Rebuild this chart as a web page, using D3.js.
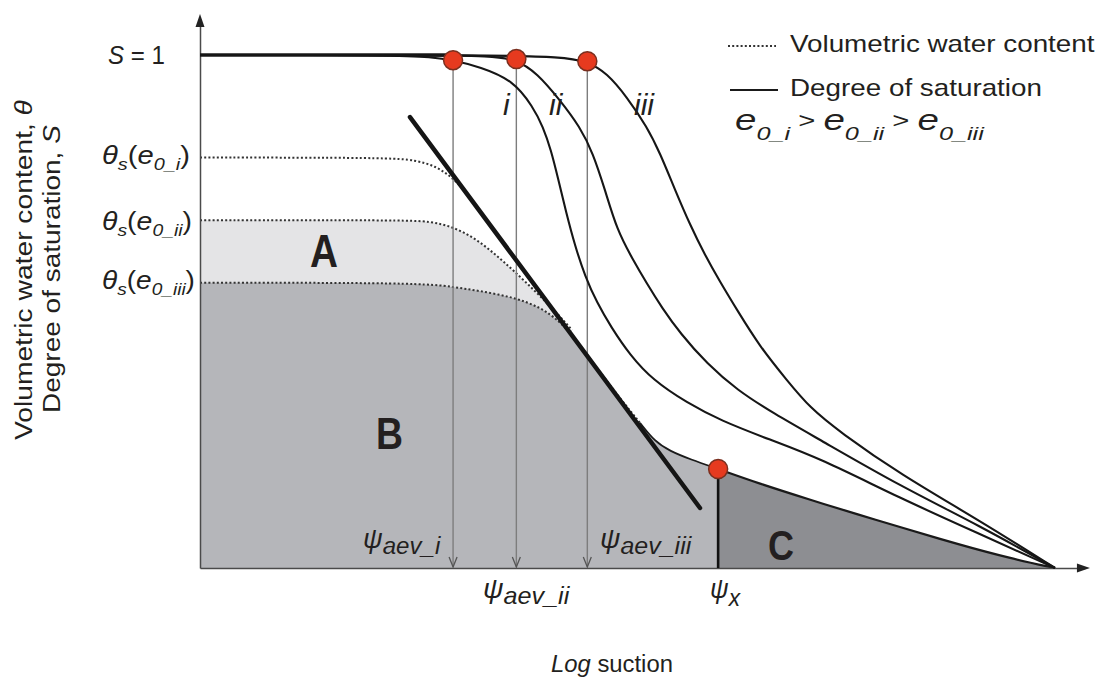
<!DOCTYPE html>
<html>
<head>
<meta charset="utf-8">
<script src="https://cdn.jsdelivr.net/npm/d3@7"></script>
<style>
  html, body { margin: 0; padding: 0; background: #fff; }
  svg { display: block; font-family: "Liberation Sans", Arial, Helvetica, sans-serif; }
  text { white-space: pre; }
</style>
</head>
<body>
<svg id="chart" width="1102" height="680"></svg>
<script>
// ---- Data: log suction (arbitrary log units, 0..10) vs. normalised S / theta (0..1) ----
const suctionDomain = [0, 10];
const valueDomain = [0, 1];

// Degree of saturation curves for three initial void ratios
const degreeSatI = [[0,1],[2.339,1],[2.690,0.996],[2.959,0.990],[3.275,0.977],[3.661,0.951],[3.895,0.899],[4.012,0.860],[4.105,0.815],[4.187,0.760],[4.281,0.694],[4.386,0.628],[4.503,0.569],[4.643,0.517],[4.807,0.470],[5.029,0.415],[5.298,0.366],[5.696,0.322],[6.082,0.288],[6.667,0.250],[7.251,0.214],[8.187,0.136],[9.123,0.066],[10,0]];
const degreeSatII = [[0,1],[2.690,1],[3.392,0.998],[3.696,0.992],[3.942,0.965],[4.211,0.912],[4.444,0.860],[4.596,0.809],[4.737,0.737],[4.877,0.659],[5.053,0.604],[5.228,0.554],[5.404,0.507],[5.614,0.458],[5.930,0.398],[6.281,0.347],[6.702,0.302],[7.251,0.250],[8.187,0.160],[9.123,0.082],[10,0]];
const degreeSatIII = [[0,1],[3.509,1],[4.211,0.996],[4.526,0.988],[4.760,0.965],[4.994,0.918],[5.228,0.860],[5.380,0.809],[5.556,0.737],[5.731,0.669],[5.906,0.610],[6.082,0.558],[6.281,0.503],[6.550,0.431],[6.865,0.366],[7.135,0.312],[7.485,0.265],[8.187,0.183],[9.123,0.092],[10,0]];

// Volumetric water content curves (normalised) until they join the common limb
const thetaI = [[0,0.800],[2.222,0.800],[2.515,0.795],[2.749,0.784],[2.947,0.762],[3.111,0.733],[3.251,0.702]];
const thetaII = [[0,0.678],[2.339,0.678],[2.690,0.676],[2.959,0.665],[3.216,0.643],[3.450,0.612],[3.661,0.581],[3.942,0.536],[4.175,0.497],[4.351,0.464]];
const thetaIII = [[0,0.556],[2.573,0.556],[2.959,0.548],[3.275,0.540],[3.661,0.528],[3.977,0.509],[4.211,0.480],[4.351,0.454],[4.468,0.429]];
// Common desaturation limb down to the residual point, then residual branch
const commonLimb = [[4.468,0.429],[4.678,0.382],[4.912,0.331],[5.146,0.283]];
const limbToResidual = [[5.146,0.283],[5.322,0.246],[5.497,0.228],[5.731,0.212],[6.06,0.193]];
const residualBranch = [[6.06,0.193],[6.550,0.164],[7.099,0.135],[7.719,0.103],[8.187,0.080],[8.889,0.045],[9.474,0.019],[10,0]];

// Tangent line through the inflection region
const tangentLine = [[2.456,0.879],[5.848,0.117]];

// Air-entry values (on the S curves) and the residual point
const aevPoints = [[2.96,0.990],[3.70,0.992],[4.53,0.988]];
const residualPoint = [6.06, 0.193];

// Labels
const curveLabels = ["i", "ii", "iii"];
const voidRatioSubs = ["0_i", "0_ii", "0_iii"];
const aevSubs = ["aev_i", "aev_ii", "aev_iii"];
const regionLabels = ["A", "B", "C"];
const legendLabels = ["Volumetric water content", "Degree of saturation"];

// ---- Scales ----
const x = d3.scaleLinear().domain(suctionDomain).range([200, 1055]);
const y = d3.scaleLinear().domain(valueDomain).range([568, 55]);

const svg = d3.select("#chart");
const TEXT = "#231f20";

const line = d3.line().x(d => x(d[0])).y(d => y(d[1])).curve(d3.curveBasis);
const area = d3.area().x(d => x(d[0])).y0(y(0)).y1(d => y(d[1])).curve(d3.curveBasis);
const straight = d3.line().x(d => x(d[0])).y(d => y(d[1]));

// ---- Shaded regions ----
const limbFull = commonLimb.concat(limbToResidual.slice(1));
svg.append("path")
  .attr("d", area(thetaII.concat(limbFull)))
  .attr("fill", "#e4e4e6");
svg.append("path")
  .attr("d", area(thetaIII.concat(limbFull.slice(1))))
  .attr("fill", "#b5b6ba");
svg.append("path")
  .attr("d", area(residualBranch))
  .attr("fill", "#8d8e92");

// ---- Water content curves (dotted) ----
[thetaI, thetaII, thetaIII, commonLimb].forEach(c => {
  svg.append("path").attr("d", line(c))
    .attr("fill", "none").attr("stroke", "#333").attr("stroke-width", 2)
    .attr("stroke-dasharray", "2,2.2");
});
svg.append("path").attr("d", line(limbToResidual))
  .attr("fill", "none").attr("stroke", "#1a1a1a").attr("stroke-width", 1.8);
svg.append("path").attr("d", line(residualBranch))
  .attr("fill", "none").attr("stroke", "#1a1a1a").attr("stroke-width", 2.2);

// ---- Axes ----
const xAxisScale = x.copy().domain([0, 10.35]).range([x(0), x(10.35)]);
const yAxisScale = y.copy().domain([0, 1.07]).range([y(0), y(1.07)]);
const gx = svg.append("g").attr("transform", `translate(0,${y(0)})`)
  .call(d3.axisBottom(xAxisScale).tickValues([]).tickSizeOuter(0));
const gy = svg.append("g").attr("transform", `translate(${x(0)},0)`)
  .call(d3.axisLeft(yAxisScale).tickValues([]).tickSizeOuter(0));
[gx, gy].forEach(g => g.select(".domain").attr("stroke", "#4a4a4a").attr("stroke-width", 1.5));
// arrowheads
const xEnd = xAxisScale.range()[1], yEnd = yAxisScale.range()[1];
svg.append("path").attr("d", `M${xEnd + 5},${y(0)} L${xEnd - 8},${y(0) - 4.5} L${xEnd - 8},${y(0) + 4.5} Z`).attr("fill", "#222");
svg.append("path").attr("d", `M${x(0)},${yEnd - 5} L${x(0) - 4.5},${yEnd + 8} L${x(0) + 4.5},${yEnd + 8} Z`).attr("fill", "#222");

// ---- Air-entry arrows ----
aevPoints.forEach(p => {
  const px = x(p[0]), bot = y(0) - 1;
  svg.append("line").attr("x1", px).attr("x2", px).attr("y1", y(p[1]) + 8).attr("y2", bot)
    .attr("stroke", "#7d7d7d").attr("stroke-width", 1.4);
  svg.append("path").attr("d", `M${px - 4},${bot - 10} L${px},${bot} L${px + 4},${bot - 10}`)
    .attr("fill", "none").attr("stroke", "#555").attr("stroke-width", 1.3);
});
// residual suction marker line
svg.append("line")
  .attr("x1", x(residualPoint[0])).attr("x2", x(residualPoint[0]))
  .attr("y1", y(residualPoint[1])).attr("y2", y(0))
  .attr("stroke", "#111").attr("stroke-width", 2.6);

// ---- Tangent line ----
svg.append("path").attr("d", straight(tangentLine))
  .attr("stroke", "#151515").attr("stroke-width", 4.5).attr("stroke-linecap", "round").attr("fill", "none");

// ---- Degree of saturation curves ----
svg.append("path").attr("d", straight([[0, 1], [aevPoints[0][0], 1]]))
  .attr("stroke", "#1a1a1a").attr("stroke-width", 3.4);
[degreeSatI, degreeSatII, degreeSatIII].forEach(c => {
  svg.append("path").attr("d", line(c))
    .attr("fill", "none").attr("stroke", "#161616").attr("stroke-width", 2.1);
});

// ---- Key points ----
aevPoints.concat([residualPoint]).forEach(p => {
  svg.append("circle").attr("cx", x(p[0])).attr("cy", y(p[1])).attr("r", 9.5)
    .attr("fill", "#e63a1f").attr("stroke", "#7a2f1f").attr("stroke-width", 1.5);
});

// ---- Text helper: builds a rich text run and fits it to a width ----
function addText(parts, ax, by, width, rotate) {
  const t = svg.append("text").attr("fill", TEXT);
  parts.forEach(p => {
    const ts = t.append("tspan").text(p.t).attr("font-size", p.s)
      .attr("font-style", p.i ? "italic" : "normal");
    if (p.b) ts.attr("font-weight", "bold");
    if (p.dy) ts.attr("dy", p.dy);
  });
  const bb = t.node().getBBox();
  const sx = width ? width / bb.width : 1;
  t.attr("transform", rotate
    ? `translate(${ax},${by}) rotate(-90) scale(${sx},1) translate(${-bb.x},0)`
    : `translate(${ax},${by}) scale(${sx},1) translate(${-bb.x},0)`);
  return t;
}

// S = 1
addText([{t: "S", s: 25, i: true}, {t: " = 1", s: 25}], 108, 64, 57);

// Saturated water content labels
const thetaBase = [164, 230, 289];
const thetaWidth = [88, 90, 93];
voidRatioSubs.forEach((sub, k) => {
  addText([
    {t: "\u03B8", s: 25, i: true},
    {t: "s", s: 17, i: true, dy: 6},
    {t: "(", s: 25, dy: -6},
    {t: "e", s: 25, i: true},
    {t: sub, s: 17, i: true, dy: 6},
    {t: ")", s: 25, dy: -6}
  ], 102, thetaBase[k], thetaWidth[k]);
});

// Curve labels i, ii, iii
const curveLabelX = [503, 549, 634];
curveLabels.forEach((lab, k) => {
  svg.append("text").attr("x", curveLabelX[k]).attr("y", 115)
    .attr("font-size", 30).attr("font-style", "italic").attr("fill", TEXT).text(lab);
});

// Region labels
const regionPos = [[310, 267, 28, 47], [376, 449, 27, 45], [768, 560, 26, 42]];
regionLabels.forEach((lab, k) => {
  const r = regionPos[k];
  addText([{t: lab, s: r[3], b: true}], r[0], r[1], r[2]);
});

// Suction labels
const aevPos = [[363, 548, 78], [483, 598, 87], [600, 548, 92]];
aevSubs.forEach((sub, k) => {
  const p = aevPos[k];
  addText([{t: "\u03C8", s: 27, i: true}, {t: sub, s: 24, i: true, dy: 6}], p[0], p[1], p[2]);
});
addText([{t: "\u03C8", s: 27, i: true}, {t: "x", s: 24, i: true, dy: 8}], 710, 598, 31);

// Legend
svg.append("line").attr("x1", 728).attr("x2", 776).attr("y1", 46).attr("y2", 46)
  .attr("stroke", "#333").attr("stroke-width", 2).attr("stroke-dasharray", "2,2.2");
addText([{t: legendLabels[0], s: 24}], 790, 52, 305);
svg.append("line").attr("x1", 730).attr("x2", 778).attr("y1", 90).attr("y2", 90)
  .attr("stroke", "#1a1a1a").attr("stroke-width", 2);
addText([{t: legendLabels[1], s: 24}], 790, 96, 252);
addText([
  {t: "e", s: 29, i: true}, {t: voidRatioSubs[0], s: 19, i: true, dy: 10},
  {t: " > ", s: 22, dy: -12},
  {t: "e", s: 29, i: true, dy: 2}, {t: voidRatioSubs[1], s: 19, i: true, dy: 10},
  {t: " > ", s: 22, dy: -12},
  {t: "e", s: 29, i: true, dy: 2}, {t: voidRatioSubs[2], s: 19, i: true, dy: 10}
], 735, 130, 250);

// Axis titles
addText([{t: "Volumetric water content, ", s: 24}, {t: "\u03B8", s: 24, i: true}], 32, 440, 340, true);
addText([{t: "Degree of saturation, ", s: 24}, {t: "S", s: 24, i: true}], 60, 413, 288, true);
addText([{t: "Log", s: 24, i: true}, {t: " suction", s: 24}], 551, 672, 122);
</script>
</body>
</html>
